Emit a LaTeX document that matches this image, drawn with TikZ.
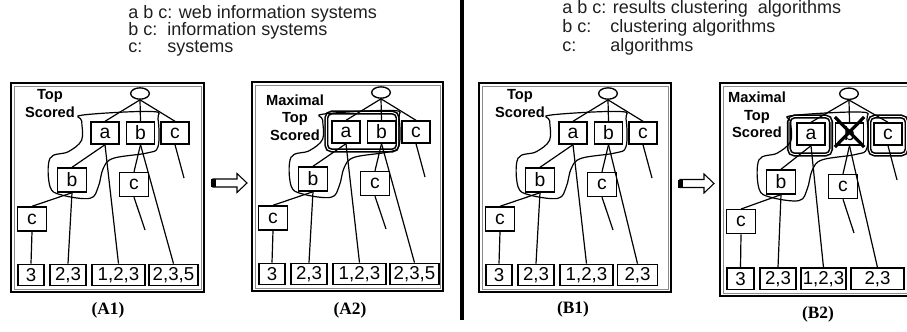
\documentclass[tikz,border=0pt]{standalone}
\usepackage{fontspec}
\setmainfont{Liberation Sans}
\newfontfamily\capserif{Liberation Serif}
\usetikzlibrary{shapes.geometric,calc}

\tikzset{
 tbox/.style={draw, line width=1.05pt, minimum width=21pt, minimum height=16.5pt, inner sep=0pt, font=\fontsize{14.5}{14.5}\selectfont},
 mbox/.style={tbox, minimum width=21.75pt, minimum height=18pt},
 lbox/.style={tbox, minimum height=16pt, font=\fontsize{14}{14}\selectfont},
 rootnode/.style={ellipse, draw, line width=1pt, minimum width=14pt, minimum height=8.5pt, inner sep=0pt},
 edge/.style={line width=0.9pt},
 blob/.style={line width=0.9pt},
 hl/.style={draw, line width=1.2pt, double=white, double distance=0.7pt, rounded corners=4pt, inner sep=0pt},
 frameout/.style={line width=1.2pt},
 framein/.style={line width=0.4pt, black!45},
 titletext/.style={font=\bfseries\fontsize{11}{13.1}\selectfont, align=center, inner sep=0pt},
 caption/.style={font=\capserif\bfseries\fontsize{13}{13}\selectfont, inner sep=0pt},
 legend/.style={font=\fontsize{13.5}{13.5}\selectfont, anchor=base west, inner sep=0pt, text=black!88},
 panelarrow/.style={line width=0.8pt, fill=white},
 crossline/.style={line width=2.4pt},
}

\newcommand\drawtree[1]{%
 \node[rootnode] (#1r) at (129,10.5) {};
 \node[tbox] (#1a) at (\PAX,50) {a};
 \node[tbox] (#1b) at (129.5,50) {b};
 \node[tbox] (#1c) at (\PCX,50) {c};
 \node[mbox] (#1b2) at (61,97) {b};
 \node[mbox] (#1c2) at (123,101.5) {c};
 \node[mbox] (#1c3) at (21,136) {c};
 \node[lbox, minimum width=\LAW*0.75pt] (#1l1) at (\LAX,192) {3};
 \node[lbox, minimum width=\LBW*0.75pt] (#1l2) at (\LBX,192) {2,3};
 \node[lbox, minimum width=\LCW*0.75pt] (#1l3) at (\LCX,192) {1,2,3};
 \node[lbox, minimum width=\LDW*0.75pt] (#1l4) at (\LDX,192) {\LDT};
 \coordinate (#1e1) at (\PCX+9,95);
 \coordinate (#1e2) at (134,147);
 \draw[edge] (#1r.south) -- (#1a.north);
 \draw[edge] (#1r.south) -- (#1b.north);
 \draw[edge] (#1r.south) -- (#1c.north);
 \draw[edge] (#1a.south) -- (#1b2.north);
 \draw[edge] (#1a.south) -- (#1l3.north);
 \draw[edge] (#1b.south) -- (#1c2.north);
 \draw[edge] (#1b.south) -- (#1l4.north);
 \draw[edge] (#1c.south) -- (#1e1);
 \draw[edge] (#1b2.south) -- (#1c3.north);
 \draw[edge] (#1b2.south) -- (#1l2.north);
 \draw[edge] (#1c2.south) -- (#1e2);
 \draw[edge] (#1c3.south) -- (#1l1.north);
 \draw[blob] plot[smooth cycle, tension=0.6] coordinates {(72,32) (140.7,28.5) (147,36) (147,63.7) (136,70) (102.3,75.3) (92.3,85.3) (87.3,103.7) (79,115.3) (50.7,112) (39,103.7) (39,75.3) (57.3,68.7) (70.7,57) (70.7,38)};
}

\begin{document}
\begin{tikzpicture}[x=0.75pt, y=-0.75pt]
\useasboundingbox (0,0) rectangle (907,332);
\clip (0,0) rectangle (907,332);

% legends
\node[legend] (tl1) at (128,18) {a b c: web information systems};
\node[legend] (tl2a) at (128,35) {b c:};
\node[legend] (tl2b) at (167,35) {information systems};
\node[legend] (tl3a) at (128,52) {c:};
\node[legend] (tl3b) at (167,52) {systems};
\node[legend] (tr1) at (562,13) {a b c: results clustering\ \ algorithms};
\node[legend] (tr2a) at (562,32) {b c:};
\node[legend] (tr2b) at (610,32) {clustering algorithms};
\node[legend] (tr3a) at (562,51) {c:};
\node[legend] (tr3b) at (610,51) {algorithms};

% divider
\draw[line width=3.5pt] (462,0) -- (462,320);

% panel A1
\begin{scope}[shift={(11,83)}]
 \draw[frameout] (0,0) rectangle (193,209);
 \draw[framein] (3,3) rectangle (190,206);
 \node[titletext] (A1t) at (39,20.5) {Top\\Scored};
 \def\PAX{94}\def\PCX{164}
 \def\LAX{20}\def\LAW{26}\def\LBX{57}\def\LBW{36}
 \def\LCX{107.5}\def\LCW{53}\def\LDX{162.5}\def\LDW{49}\def\LDT{2,3,5}
 \drawtree{A1}
\end{scope}

% panel A2
\begin{scope}[shift={(252,82)}]
 \draw[frameout] (0,0) rectangle (191,209);
 \draw[framein] (3,3) rectangle (188,206);
 \node[titletext] (A2t) at (43,35.5) {Maximal\\Top\\Scored};
 \node[hl, minimum width=53.5pt, minimum height=28.5pt] (A2hl) at (110,49.5) {};
 \def\PAX{94}\def\PCX{164}
 \def\LAX{20}\def\LAW{26}\def\LBX{57}\def\LBW{36}
 \def\LCX{107.5}\def\LCW{53}\def\LDX{162.5}\def\LDW{49}\def\LDT{2,3,5}
 \drawtree{A2}
\end{scope}

% panel B1
\begin{scope}[shift={(479,83)}]
 \draw[frameout] (0,0) rectangle (192,209);
 \draw[framein] (3,3) rectangle (189,206);
 \node[titletext] (B1t) at (41,20.5) {Top\\Scored};
 \def\PAX{94}\def\PCX{164}
 \def\LAX{20}\def\LAW{26}\def\LBX{57}\def\LBW{36}
 \def\LCX{107.5}\def\LCW{53}\def\LDX{158.5}\def\LDW{40}\def\LDT{2,3}
 \drawtree{B1}
\end{scope}

% panel B2
\begin{scope}[shift={(720,83)}, yscale=1.02]
 \draw[frameout] (0,0) rectangle (205,209);
 \draw[framein] (3,3) rectangle (202,206);
 \node[titletext] (B2t) at (37,31.5) {Maximal\\Top\\Scored};
 \node[hl, minimum width=31.5pt, minimum height=28.5pt] (B2hla) at (90,51.5) {};
 \node[hl, minimum width=28pt, minimum height=28.5pt] (B2hlc) at (168,51.5) {};
 \def\PAX{91}\def\PCX{168}
 \def\LAX{20.5}\def\LAW{27}\def\LBX{58}\def\LBW{36}
 \def\LCX{103.5}\def\LCW{45}\def\LDX{157.5}\def\LDW{53}\def\LDT{2,3}
 \drawtree{B2}
\end{scope}
\draw[crossline] ($(B2b.north west)+(0,4pt)$) -- ($(B2b.south east)+(0,-1pt)$);
\draw[crossline] ($(B2b.north east)+(0,4pt)$) -- ($(B2b.south west)+(0,-1pt)$);

% arrows between panels
\draw[panelarrow] (213,179) -- (237,179) -- (237,173.5) -- (247,183) -- (237,192.5) -- (237,187) -- (213,187) -- cycle;
\fill (211,179) rectangle (216,187);
\draw[panelarrow] (680,179.5) -- (704,179.5) -- (704,174) -- (714,183.5) -- (704,193) -- (704,187.5) -- (680,187.5) -- cycle;
\fill (678,179.5) rectangle (683,187.5);

% captions
\node[caption] (capA1) at (108,310) {(A1)};
\node[caption] (capA2) at (350,310) {(A2)};
\node[caption] (capB1) at (573,309) {(B1)};
\node[caption] (capB2) at (818,314) {(B2)};
\end{tikzpicture}
\end{document}
